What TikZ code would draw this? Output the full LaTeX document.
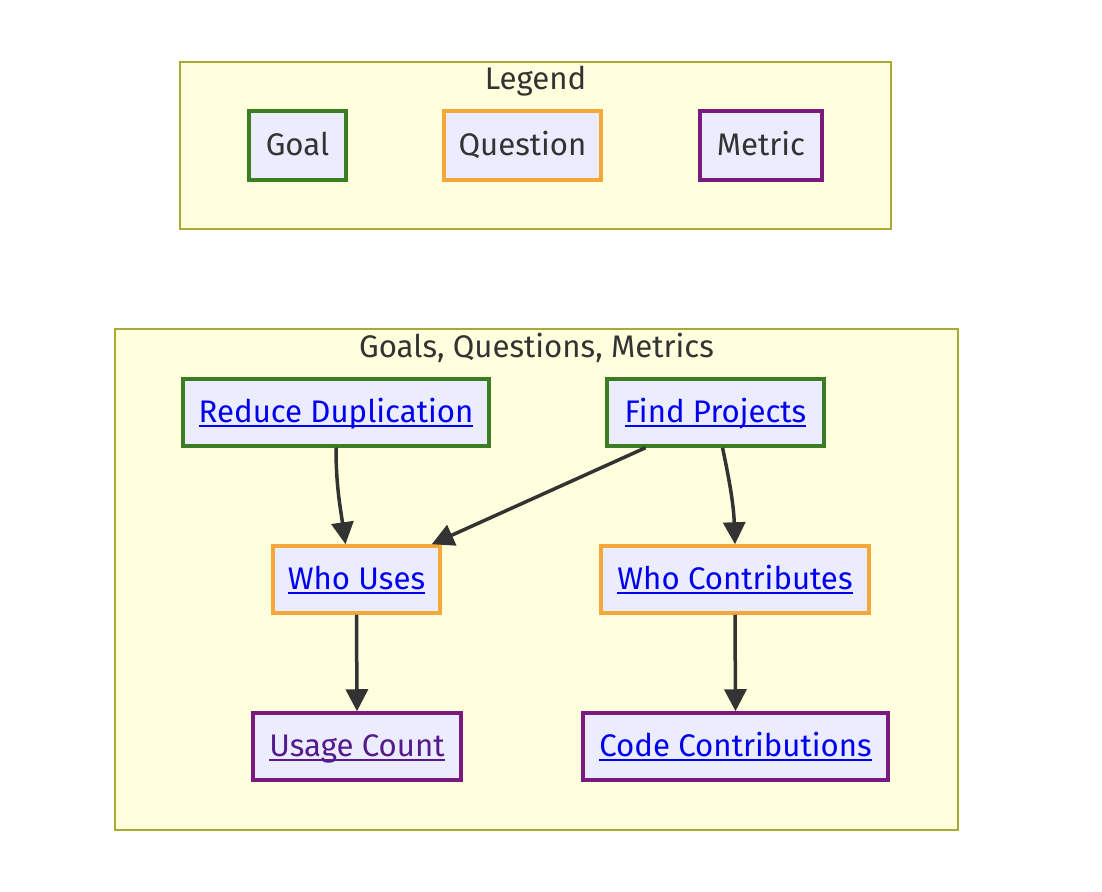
\documentclass[tikz,border=0pt]{standalone}
\usepackage{fontspec}
\setmainfont{Fira Sans}
\usetikzlibrary{arrows.meta}

\definecolor{boxfill}{HTML}{ECECFF}
\definecolor{clusterfill}{HTML}{FFFFDE}
\definecolor{clusterline}{HTML}{AAAA33}
\definecolor{goalline}{HTML}{3A7D22}
\definecolor{questionline}{HTML}{F4A83A}
\definecolor{metricline}{HTML}{7A1A7E}
\definecolor{linkblue}{HTML}{0000EE}
\definecolor{linkvisited}{HTML}{551A8B}
\definecolor{edgegray}{HTML}{333333}

\newcommand{\lnk}[1]{\setbox0=\hbox{#1}\rlap{\rule[-2.4pt]{\wd0}{1pt}}\box0}

\tikzset{
    cluster/.style={draw=clusterline, fill=clusterfill, line width=0.75pt},
    title/.style={text=black!80, font=\fontsize{15.6}{18}\selectfont},
    item/.style={draw, fill=boxfill, line width=1.75pt, inner sep=0pt,
        minimum height=33.5pt, text height=12pt, text depth=2pt,
        text=black!80, font=\fontsize{15.6}{18}\selectfont},
    goal/.style={item, draw=goalline},
    question/.style={item, draw=questionline},
    metric/.style={item, draw=metricline},
    link/.style={draw=edgegray, line width=1.75pt, -{Triangle[length=11pt,width=11pt]}}
}

\begin{document}
\begin{tikzpicture}[x=0.5pt, y=-0.5pt]
    \useasboundingbox (0,0) rectangle (1102,892);

    % Legend
    \draw[cluster] (180,62) rectangle (891,229);
    \node[title] (legendtitle) at (535.5,81) {Legend};
    \node[goal, minimum width=48.5pt, minimum height=34.5pt] (lgoal) at (297.5,145.5) {Goal};
    \node[question, minimum width=78.5pt, minimum height=34.5pt] (lquestion) at (522.5,145.5) {Question};
    \node[metric, minimum width=61pt, minimum height=34.5pt] (lmetric) at (761,145.5) {Metric};

    % Goals, questions, metrics
    \draw[cluster] (115,329) rectangle (958,830);
    \node[title] (gqmtitle) at (536.5,348) {Goals, Questions, Metrics};

    \node[goal, minimum width=153pt, text=linkblue] (rd) at (336,412.5) {\lnk{Reduce Duplication}};
    \node[goal, minimum width=108.5pt, text=linkblue] (fp) at (715.5,412.5) {\lnk{Find Projects}};
    \node[question, minimum width=83.5pt, text=linkblue] (wu) at (356.5,579.5) {\lnk{Who Uses}};
    \node[question, minimum width=134pt, text=linkblue] (wc) at (735,579.5) {\lnk{Who Contributes}};
    \node[metric, minimum width=104pt, text=linkvisited] (uc) at (357,746.5) {\lnk{Usage Count}};
    \node[metric, minimum width=152.5pt, text=linkblue] (cc) at (735.5,746.5) {\lnk{Code Contributions}};

    % Edges
    \draw[link] (rd.south) to[out=-90, in=98] ([shift={(-11,0)}]wu.north);
    \draw[link] ([shift={(-70,0)}]fp.south) -- ([shift={(-10,0)}]wu.north east);
    \draw[link] ([shift={(7,0)}]fp.south) to[out=-78, in=92] (wc.north);
    \draw[link] (wu.south) -- (uc.north);
    \draw[link] (wc.south) -- (cc.north);
\end{tikzpicture}
\end{document}
